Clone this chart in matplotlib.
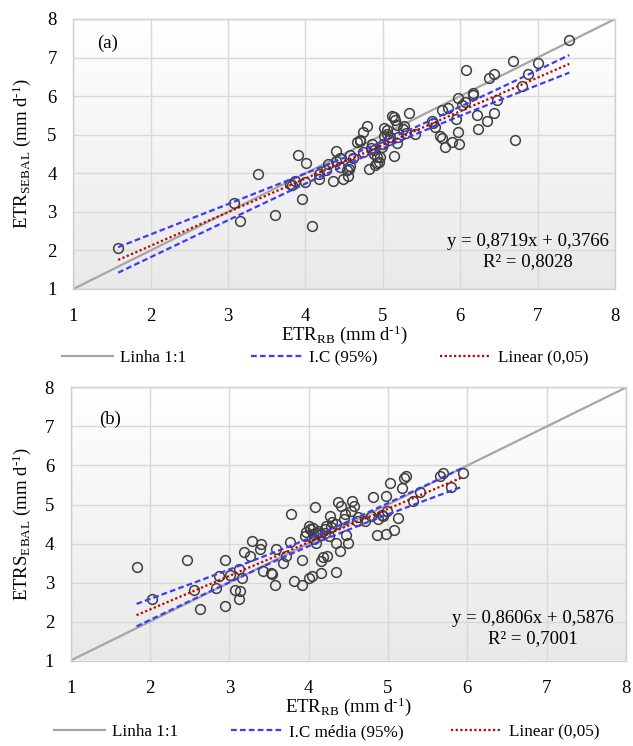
import numpy as np
import matplotlib
matplotlib.use("Agg")
import matplotlib.pyplot as plt
from matplotlib.colors import LinearSegmentedColormap
from matplotlib.lines import Line2D

plt.rcParams["font.family"] = ["Liberation Serif", "DejaVu Serif"]
plt.rcParams["mathtext.fontset"] = "custom"
plt.rcParams["mathtext.rm"] = "Liberation Serif"
plt.rcParams["mathtext.it"] = "Liberation Serif:italic"

# ---- data ----
# panel (a): ETR_RB vs ETR_SEBAL
a_rb = [1.58, 3.08, 3.15, 3.39, 3.61, 3.95, 4.08, 3.90, 4.01, 3.83, 3.86, 3.99, 4.17, 4.18,
        4.29, 4.35, 4.39, 4.40, 4.49, 4.55, 4.56, 4.57, 4.45, 4.67, 4.74, 4.79, 4.70, 4.82,
        4.86, 4.89, 4.93, 4.96, 4.99, 5.02, 5.05, 5.09, 5.14, 5.15, 5.16, 5.18, 5.26, 5.34,
        5.41, 5.65, 5.68, 5.76, 5.84, 5.77, 5.80, 5.89, 5.98, 5.97, 5.94, 5.97, 6.07, 6.06,
        6.16, 6.17, 6.22, 6.23, 6.34, 6.43, 6.37, 6.43, 6.47, 6.68, 6.71, 6.80, 6.88, 7.00,
        7.41, 3.80, 4.26, 4.45, 4.54, 4.71, 4.88, 4.92, 4.95, 4.90, 5.01, 5.05, 5.12, 5.18,
        5.27, 5.63, 5.74, 6.02, 4.62, 4.75, 4.85, 5.00, 5.08, 5.20, 5.30, 4.58]
a_sebal = [2.06, 3.23, 2.76, 3.98, 2.92, 3.33, 2.64, 4.48, 4.27, 3.70, 3.81, 3.77, 3.84, 3.99,
           4.25, 3.80, 4.59, 4.33, 3.84, 3.94, 4.12, 4.48, 4.16, 4.81, 5.07, 5.22, 4.84, 4.10,
           4.77, 4.51, 4.27, 4.42, 4.68, 5.18, 5.03, 4.94, 5.46, 4.44, 5.37, 4.79, 5.16, 5.56,
           5.03, 5.30, 5.20, 5.65, 5.68, 4.92, 4.68, 4.81, 4.75, 5.07, 5.42, 5.95, 6.69, 5.85,
           6.08, 6.04, 5.50, 5.14, 5.36, 5.56, 6.48, 6.57, 5.89, 6.92, 4.85, 6.26, 6.57, 6.86,
           7.45, 3.72, 4.09, 4.39, 4.09, 4.87, 4.61, 4.43, 4.30, 4.22, 4.96, 5.13, 5.48, 5.26,
           5.22, 5.35, 4.96, 5.78, 4.40, 4.55, 4.65, 4.75, 4.85, 4.95, 5.05, 4.20]
a_slope, a_icpt, a_r2 = 0.8719, 0.3766, 0.8028

# panel (b)
b_rb = [1.83, 2.02, 2.46, 2.56, 2.63, 2.83, 2.94, 2.94, 2.87, 3.01, 3.07, 3.12, 3.13, 3.16,
        3.12, 3.19, 3.29, 3.26, 3.38, 3.40, 3.42, 3.52, 3.54, 3.58, 3.59, 3.68, 3.72, 3.76,
        3.78, 3.82, 3.91, 3.92, 4.00, 4.04, 3.96, 4.00, 4.08, 4.09, 4.05, 4.11, 4.15, 4.16,
        4.18, 4.23, 4.21, 4.25, 4.27, 4.30, 4.34, 4.34, 4.37, 4.39, 4.41, 4.47, 4.50, 4.46,
        4.53, 4.55, 4.57, 4.61, 4.71, 4.78, 4.81, 4.86, 4.97, 4.97, 4.94, 4.99, 5.02, 5.08,
        5.13, 5.17, 5.20, 5.23, 5.31, 5.40, 5.65, 5.69, 5.80, 5.94, 4.02, 4.06, 4.12, 4.14,
        4.20, 4.28, 4.35, 4.22, 4.07, 3.95, 4.45, 4.62, 4.88, 4.92]
b_sebal = [3.41, 2.57, 3.57, 2.81, 2.31, 2.87, 3.57, 2.41, 3.17, 3.18, 2.82, 2.57, 2.78, 3.12,
           3.34, 3.77, 4.07, 3.67, 3.85, 3.98, 3.30, 3.24, 3.21, 2.93, 3.87, 3.49, 3.68, 4.05,
           4.75, 3.04, 2.93, 3.57, 3.12, 3.17, 4.30, 4.45, 4.94, 4.02, 4.24, 4.28, 3.55, 3.25,
           3.66, 3.68, 4.36, 4.19, 4.71, 4.54, 3.27, 4.02, 5.07, 3.81, 4.96, 4.21, 4.01, 4.75,
           4.83, 5.09, 4.96, 4.58, 4.58, 4.71, 5.19, 4.21, 5.22, 4.24, 4.71, 4.83, 5.54, 4.35,
           4.65, 5.43, 5.69, 5.73, 5.09, 5.31, 5.72, 5.82, 5.45, 5.80, 4.38, 4.40, 4.33, 4.22,
           4.28, 4.42, 4.50, 4.45, 4.12, 4.20, 4.62, 4.68, 4.62, 4.72]
b_slope, b_icpt, b_r2 = 0.8606, 0.5876, 0.7001

ticks = [1, 2, 3, 4, 5, 6, 7, 8]

W, H = 633, 746
fig = plt.figure(figsize=(W / 100, H / 100), dpi=100)
fig.patch.set_facecolor("white")

bg_cmap = LinearSegmentedColormap.from_list("bg", ["#ffffff", "#e9e9e9"])
GRAY, BLUE, RED = "#a6a6a6", "#3c3cf2", "#c00000"
FS = 13.5
LFS = 12.3
BLUE_DASH = (2.6, 1.4)
RED_DOT = (0, (1, 1.1))


def panel(box, x, y, slope, icpt, r2, tag, tag_xy, ylab, eq_xy):
    l, t, r, b = box
    ax = fig.add_axes([l / W, 1 - b / H, (r - l) / W, (b - t) / H])
    ax.set_xlim(1, 8)
    ax.set_ylim(1, 8)
    ax.imshow(np.linspace(0, 1, 256).reshape(-1, 1), extent=(1, 8, 1, 8),
              aspect="auto", cmap=bg_cmap, origin="upper", zorder=0)
    ax.set_xticks(ticks)
    ax.set_yticks(ticks)
    ax.grid(color="#d9d9d9", lw=1.0, zorder=1)
    ax.set_axisbelow(True)
    for s in ax.spines.values():
        s.set_color("#cfcfcf")
        s.set_linewidth(1.0)
    ax.tick_params(length=0, labelsize=FS, pad=12)
    ax.tick_params(axis="x", pad=14)

    x = np.array(x)
    y = np.array(y)
    # 1:1 line
    ax.plot([1, 8], [1, 8], color=GRAY, lw=1.6, zorder=2)
    ax.plot(x, y, "o", ms=7, mfc="none", mec="#3f3f3f", mew=1.1, zorder=3)

    # fitted line and 95% CI of the mean
    xs = np.linspace(x.min(), x.max(), 200)
    fit = slope * xs + icpt
    n = len(x)
    resid = y - (slope * x + icpt)
    s = np.sqrt(np.sum(resid ** 2) / (n - 2))
    sxx = np.sum((x - x.mean()) ** 2)
    half = 1.984 * s * np.sqrt(1 / n + (xs - x.mean()) ** 2 / sxx)
    ax.plot(xs, fit + half, color=BLUE, lw=1.6, dashes=BLUE_DASH, zorder=4)
    ax.plot(xs, fit - half, color=BLUE, lw=1.6, dashes=BLUE_DASH, zorder=4)
    ax.plot(xs, fit, color=RED, lw=1.6, ls=RED_DOT, zorder=5)

    ax.text(tag_xy[0], tag_xy[1], tag, fontsize=FS, ha="center", va="center")
    ax.text(eq_xy[0], eq_xy[1],
            "y = {:.4f}x + {:.4f}\nR² = {:.4f}".format(slope, icpt, r2).replace(".", ","),
            fontsize=FS, ha="center", va="center", multialignment="center",
            linespacing=1.25)
    fig.text(22 / W, 1 - (t + b) / 2 / H, ylab, rotation=90, fontsize=FS,
             ha="center", va="center")
    return ax


ax_a = panel((73.3, 19, 615, 289), a_rb, a_sebal, a_slope, a_icpt, a_r2, "(a)", (1.44, 7.37),
             r"ETR$_{\mathrm{SEBAL}}$ (mm d$^{\text{-1}}$)", (6.87, 1.98))
ax_b = panel((70.7, 387.5, 626, 660.5), b_rb, b_sebal, b_slope, b_icpt, b_r2, "(b)", (1.49, 7.18),
             r"ETRS$_{\mathrm{EBAL}}$ (mm d$^{\text{-1}}$)", (6.83, 1.82))

xlab = r"ETR$_{\mathrm{RB}}$ (mm d$^{\text{-1}}$)"
fig.text(344 / W, 1 - 335 / H, xlab, fontsize=FS, ha="center", va="center")
fig.text(348 / W, 1 - 707 / H, xlab, fontsize=FS, ha="center", va="center")

# legend entries, each placed on its own
handles = [Line2D([], [], color=GRAY, lw=1.6),
           Line2D([], [], color=BLUE, lw=1.6, dashes=BLUE_DASH),
           Line2D([], [], color=RED, lw=1.6, ls=RED_DOT)]


def legend(labels, xs, y):
    for h, lab, x0 in zip(handles, labels, xs):
        fig.legend([h], [lab], loc="center left", bbox_to_anchor=(x0 / W, 1 - y / H),
                   frameon=False, fontsize=LFS, handlelength=3.0, handletextpad=0.4,
                   borderpad=0, borderaxespad=0)


legend(["Linha 1:1", "I.C (95%)", "Linear (0,05)"], [62, 251, 440], 358)
legend(["Linha 1:1", "I.C média (95%)", "Linear (0,05)"], [54, 231, 451], 732)

fig.savefig("out.png", dpi=100)
